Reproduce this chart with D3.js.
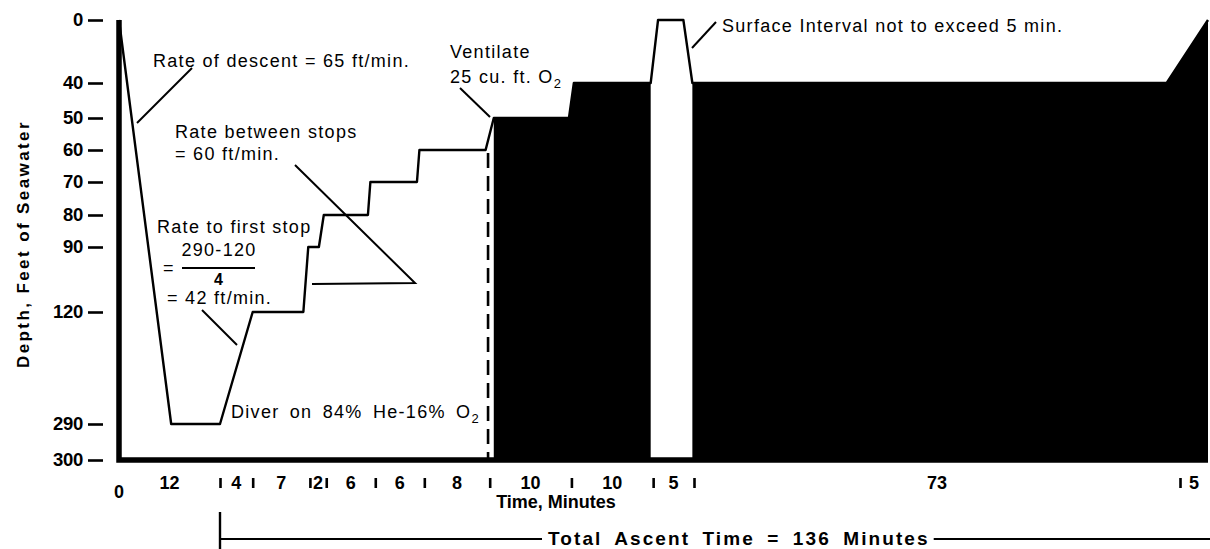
<!DOCTYPE html>
<html>
<head>
<meta charset="utf-8">
<script src="https://cdn.jsdelivr.net/npm/d3@7"></script>
<style>
  body { margin: 0; background: #fff; }
  svg { display: block; }
  text { font-family: "Liberation Sans", Arial, Helvetica, sans-serif; fill: #000; }
  .note { font-size: 18px; letter-spacing: 1.3px; }
  .lbl { font-size: 18px; font-weight: bold; }
</style>
</head>
<body>
<svg id="chart" width="1210" height="549"></svg>
<script>
// ---- Schedule data -------------------------------------------------------
// Minutes spent in each phase (bottom, travel, stops, surface, chamber, ascent)
const segmentMinutes = [12, 4, 7, 2, 6, 6, 8, 10, 10, 5, 73, 5];
const segmentLabels  = ["12", "4", "7", "2", "6", "6", "8", "10", "10", "5", "73", "5"];

// Depth axis tick values (feet of seawater)
const depthTicks = [0, 40, 50, 60, 70, 80, 90, 120, 290, 300];

// Dive profile: elapsed time (min) and depth (fsw) at each vertex
const profileTime  = [0, 6.2, 12, 16, 22.2, 22.8, 24.1, 24.7, 30.1, 30.4, 36.1, 36.4,
                      44.5, 45.5, 54.7, 55.3, 64.7, 65.6, 68.7, 69.8, 141, 148];
const profileDepth = [0, 290, 290, 120, 120, 90, 90, 80, 80, 70, 70, 60,
                      60, 50, 50, 40, 40, 0, 0, 40, 40, 0];

// Periods breathing oxygen (shaded), in elapsed minutes
const oxygenPeriods = [[45.5, 64.7], [69.8, 148]];

// Time of the O2 switch marker at the 60-ft stop
const switchTime = 44.8;

// ---- Layout ---------------------------------------------------------------
const svg = d3.select("#chart");
const W = 1210, H = 549;

// Broken time axis: the long 73-minute chamber period is compressed
const timeBreaks = [0, 12, 70, 143, 148];
const timePixels = [119, 220, 694, 1180, 1208];
const x = d3.scaleLinear().domain(timeBreaks).range(timePixels);

// Non-uniform depth axis
const depthPixels = [20, 83, 118, 150, 182, 215, 247, 312, 424, 460];
const y = d3.scaleLinear().domain(depthTicks).range(depthPixels);

const points = profileTime.map((t, i) => ({ t, d: profileDepth[i] }));
const totalTime = d3.sum(segmentMinutes);
const bounds = d3.cumsum(segmentMinutes);           // end of each segment
const starts = [0, ...bounds.slice(0, -1)];

// ---- Oxygen (black) areas -------------------------------------------------
const area = d3.area()
  .x(p => x(p.t))
  .y0(y(300))
  .y1(p => y(p.d));

svg.selectAll("path.o2")
  .data(oxygenPeriods)
  .join("path")
  .attr("class", "o2")
  .attr("d", ([a, b]) => area(points.filter(p => p.t >= a && p.t <= b)))
  .attr("fill", "#000");

// ---- Dashed switch marker -------------------------------------------------
svg.append("line")
  .attr("x1", x(switchTime)).attr("x2", x(switchTime))
  .attr("y1", y(60) + 3).attr("y2", y(300))
  .attr("stroke", "#000").attr("stroke-width", 2.6)
  .attr("stroke-dasharray", "15,8");

// ---- Profile line ---------------------------------------------------------
const line = d3.line().x(p => x(p.t)).y(p => y(p.d));
svg.append("path")
  .attr("d", line(points))
  .attr("fill", "none")
  .attr("stroke", "#000")
  .attr("stroke-width", 2.4)
  .attr("stroke-linejoin", "round");

// ---- Heavy frame (left and bottom) ----------------------------------------
svg.append("path")
  .attr("d", `M${x(0)},${y(0)}V${y(300)}H${x(totalTime)}`)
  .attr("fill", "none")
  .attr("stroke", "#000")
  .attr("stroke-width", 5.5);

// ---- Depth axis -----------------------------------------------------------
const yAxis = svg.append("g")
  .attr("transform", `translate(${x(0) - 16},0)`)
  .call(d3.axisLeft(y).tickValues(depthTicks).tickSize(15).tickPadding(5)
        .tickFormat(d3.format("d")));
yAxis.select(".domain").remove();
yAxis.selectAll(".tick line").attr("stroke", "#000").attr("stroke-width", 2.6);
yAxis.selectAll(".tick text")
  .attr("fill", "#000")
  .style("font-size", "18.5px")
  .style("font-weight", "bold")
  .style("letter-spacing", "-0.3px")
  .style("font-family", "'Liberation Sans', Arial, sans-serif");

svg.append("text")
  .attr("class", "lbl")
  .attr("transform", `translate(29,244) rotate(-90)`)
  .attr("text-anchor", "middle")
  .style("font-size", "17px")
  .style("letter-spacing", "2.4px")
  .text("Depth, Feet of Seawater");

// ---- Time axis: segment boundary marks and durations ----------------------
const xAxis = svg.append("g")
  .attr("transform", `translate(0,${y(300) + 18})`)
  .call(d3.axisBottom(x).tickValues(bounds.slice(0, -1)).tickSize(10).tickFormat(""));
xAxis.select(".domain").remove();
xAxis.selectAll(".tick line").attr("stroke", "#000").attr("stroke-width", 2.6);

svg.selectAll("text.seg")
  .data(segmentLabels)
  .join("text")
  .attr("class", "seg lbl")
  .attr("x", (d, i) => x((starts[i] + bounds[i]) / 2))
  .attr("y", y(300) + 29)
  .attr("text-anchor", "middle")
  .text(d => d);

svg.append("text")
  .attr("class", "lbl")
  .attr("x", x(0))
  .attr("y", y(300) + 38)
  .attr("text-anchor", "middle")
  .text("0");

svg.append("text")
  .attr("class", "lbl")
  .attr("x", 556)
  .attr("y", y(300) + 48)
  .attr("text-anchor", "middle")
  .text("Time, Minutes");

// ---- Total ascent bracket -------------------------------------------------
const bracketY = 539;
const ascentStart = x(segmentMinutes[0]);
svg.append("line")
  .attr("x1", ascentStart).attr("x2", ascentStart)
  .attr("y1", 512).attr("y2", H)
  .attr("stroke", "#000").attr("stroke-width", 2.4);
const totalLabel = svg.append("text")
  .attr("class", "lbl")
  .attr("x", 548)
  .attr("y", bracketY + 6)
  .style("font-size", "19px")
  .style("letter-spacing", "2.1px")
  .style("word-spacing", "5px")
  .text(`Total Ascent Time = ${totalTime - segmentMinutes[0]} Minutes`);
const tb = totalLabel.node().getBBox();
svg.append("line")
  .attr("x1", ascentStart).attr("x2", tb.x - 6)
  .attr("y1", bracketY).attr("y2", bracketY)
  .attr("stroke", "#000").attr("stroke-width", 2);
svg.append("line")
  .attr("x1", tb.x + tb.width + 4).attr("x2", W)
  .attr("y1", bracketY).attr("y2", bracketY)
  .attr("stroke", "#000").attr("stroke-width", 2);

// ---- Annotations ----------------------------------------------------------
function note(xp, yp, str, anchor) {
  return svg.append("text").attr("class", "note")
    .attr("x", xp).attr("y", yp)
    .attr("text-anchor", anchor || "start")
    .text(str);
}
function noteO2(xp, yp, str) {
  const t = svg.append("text").attr("class", "note").attr("x", xp).attr("y", yp);
  t.append("tspan").text(str + "O");
  t.append("tspan").attr("dy", 5).style("font-size", "13px").text("2");
  return t;
}
function leader(pts) {
  svg.append("path")
    .attr("d", d3.line()(pts))
    .attr("fill", "none")
    .attr("stroke", "#000")
    .attr("stroke-width", 2)
    .attr("stroke-linejoin", "miter");
}

note(153, 67, "Rate of descent = 65 ft/min.");
leader([[192, 68], [137, 123]]);

note(175, 138, "Rate between stops");
note(175, 160, "= 60 ft/min.");
leader([[295, 165], [415, 283], [312, 284]]);

note(157, 233, "Rate to first stop");
note(219, 256, "290-120", "middle");
note(163, 274, "=");
leader([[182, 268], [255, 268]]);
note(219, 285, "4", "middle").style("font-weight", "bold").style("font-size", "16px");
note(167, 304, "= 42 ft/min.");
leader([[202, 310], [237, 345]]);

note(450, 58, "Ventilate");
noteO2(450, 83, "25 cu. ft. ");
leader([[460, 88], [490, 117]]);

note(722, 32, "Surface Interval not to exceed 5 min.");
leader([[716, 22], [692, 48]]);

noteO2(231, 418, "Diver on 84%  He-16%  ").style("word-spacing", "4px");
</script>
</body>
</html>
